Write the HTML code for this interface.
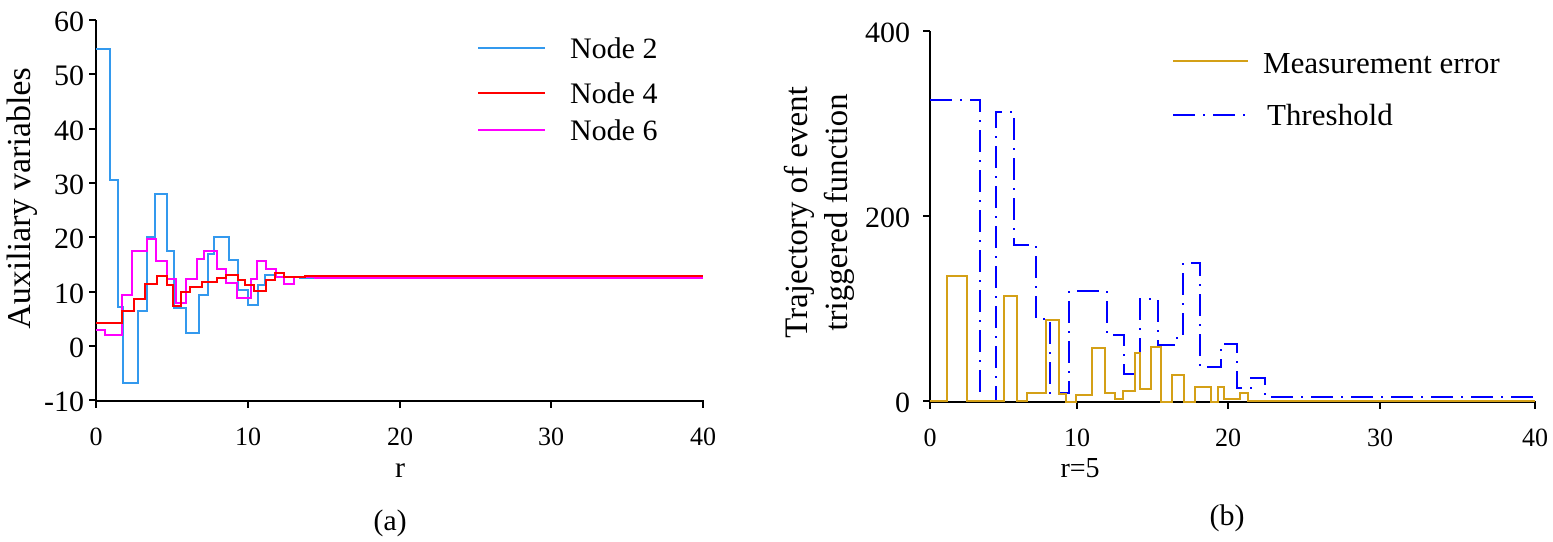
<!DOCTYPE html>
<html><head><meta charset="utf-8"><style>
html,body{margin:0;padding:0;background:#fff;}
svg{display:block;font-family:"Liberation Serif",serif;}
</style></head><body>
<svg width="1553" height="542" viewBox="0 0 1553 542" xmlns="http://www.w3.org/2000/svg">
<rect width="1553" height="542" fill="#fff"/>
<!-- Left chart axes -->
<g stroke="#000" stroke-width="2" fill="none">
<line x1="96" y1="20" x2="96" y2="401"/>
<line x1="95" y1="401" x2="704" y2="401"/>
<line x1="89" y1="20" x2="96" y2="20"/><line x1="89" y1="74" x2="96" y2="74"/><line x1="89" y1="129" x2="96" y2="129"/><line x1="89" y1="183" x2="96" y2="183"/><line x1="89" y1="237" x2="96" y2="237"/><line x1="89" y1="292" x2="96" y2="292"/><line x1="89" y1="346" x2="96" y2="346"/><line x1="89" y1="400" x2="96" y2="400"/>
<line x1="96" y1="401" x2="96" y2="408"/><line x1="248" y1="401" x2="248" y2="408"/><line x1="400" y1="401" x2="400" y2="408"/><line x1="551" y1="401" x2="551" y2="408"/><line x1="703" y1="401" x2="703" y2="408"/>
</g>
<g font-size="30" text-anchor="end">
<text x="84" y="31">60</text><text x="84" y="85">50</text><text x="84" y="140">40</text><text x="84" y="194">30</text><text x="84" y="248">20</text><text x="84" y="303">10</text><text x="84" y="357">0</text><text x="84" y="411">-10</text>
</g>
<g font-size="26" text-anchor="middle">
<text x="96" y="445">0</text><text x="248" y="445">10</text><text x="400" y="445">20</text><text x="551" y="445">30</text><text x="703" y="445">40</text>
<text x="400" y="477" font-size="30">r</text>
<text x="390" y="530" font-size="30">(a)</text>
</g>
<text transform="translate(30,198) rotate(-90)" font-size="34" text-anchor="middle">Auxiliary variables</text>
<g fill="none" stroke-width="2">
<path stroke="#3399ee" d="M96,49 H110 V180 H118 V307 H123 V383 H138 V311 H147 V237 H155 V194 H167 V251 H174 V308 H186 V333 H199 V295 H208 V254 H214 V237 H229 V260 H238 V290 H248 V305 H258 V285 H265 V275 H275 V277 H300 V278 H703"/>
<path stroke="#ff00ff" d="M96,330 H105 V335 H122 V295 H132 V251 H147 V239 H156 V261 H167 V279 H176 V303 H186 V279 H197 V259 H204 V251 H217 V269 H226 V283 H237 V298 H251 V279 H257 V261 H266 V269 H276 V277 H284 V284 H294 V277 H315 V278 H703"/>
<path stroke="#ff0000" d="M96,323 H122 V311 H134 V299 H145 V284 H157 V276 H167 V285 H173 V306 H181 V292 H190 V287 H202 V282 H217 V278 H226 V275 H238 V280 H245 V285 H254 V291 H266 V280 H275 V273 H284 V277 H305 V276 H703"/>
<line x1="478" y1="48" x2="545" y2="48" stroke="#3399ee"/>
<line x1="478" y1="93" x2="545" y2="93" stroke="#ff0000"/>
<line x1="478" y1="130" x2="545" y2="130" stroke="#ff00ff"/>
</g>
<g font-size="30">
<text x="570" y="58">Node 2</text><text x="570" y="103">Node 4</text><text x="570" y="140">Node 6</text>
</g>

<!-- Right chart -->
<g stroke="#000" stroke-width="2" fill="none">
<line x1="930" y1="31" x2="930" y2="402"/>
<line x1="929" y1="402" x2="1536" y2="402"/>
<line x1="923" y1="31" x2="930" y2="31"/><line x1="923" y1="216" x2="930" y2="216"/><line x1="923" y1="401" x2="930" y2="401"/>
<line x1="930" y1="402" x2="930" y2="409"/><line x1="1077" y1="402" x2="1077" y2="409"/><line x1="1228" y1="402" x2="1228" y2="409"/><line x1="1380" y1="402" x2="1380" y2="409"/><line x1="1535" y1="402" x2="1535" y2="409"/>
</g>
<g font-size="30" text-anchor="end">
<text x="910" y="42">400</text><text x="910" y="227">200</text><text x="910" y="412">0</text>
</g>
<g font-size="26" text-anchor="middle">
<text x="930" y="446">0</text><text x="1077" y="446">10</text><text x="1228" y="446">20</text><text x="1380" y="446">30</text><text x="1535" y="446">40</text>
<text x="1080" y="477" font-size="28">r=5</text>
<text x="1227" y="525" font-size="30">(b)</text>
</g>
<text transform="translate(807,212) rotate(-90)" font-size="33" text-anchor="middle">Trajectory of event</text>
<text transform="translate(847,212) rotate(-90)" font-size="33" text-anchor="middle">triggered function</text>
<g fill="none" stroke-width="2">
<path stroke="#0000ff" stroke-dasharray="22,8,2,8" d="M930,100 H980 V401 H996 V112 H1014 V245 H1036 V319 H1050 V393 H1069 V291 H1107 V335 H1124 V374 H1140 V299 H1158 V345 H1177 V335 H1183 V263 H1200 V367 H1221 V344 H1237 V388 H1251 V378 H1265 V397 H1535"/>
<path stroke="#d4a017" d="M930,401 H947 V276 H967 V401 H1004 V296 H1017 V401 H1027 V393 H1046 V320 H1059 V394 H1066 V402 H1076 V395 H1092 V348 H1105 V393 H1115 V399 H1123 V391 H1135 V353 H1140 V389 H1151 V347 H1161 V402 H1172 V375 H1184 V402 H1195 V387 H1211 V402 H1218 V387 H1224 V399 H1240 V393 H1248 V401 H1535"/>
<line x1="1173" y1="61" x2="1248" y2="61" stroke="#d4a017"/>
<line x1="1173" y1="115" x2="1248" y2="115" stroke="#0000ff" stroke-dasharray="22,8,2,8"/>
</g>
<g font-size="31">
<text x="1263" y="73">Measurement error</text><text x="1267" y="125">Threshold</text>
</g>
</svg>
</body></html>
